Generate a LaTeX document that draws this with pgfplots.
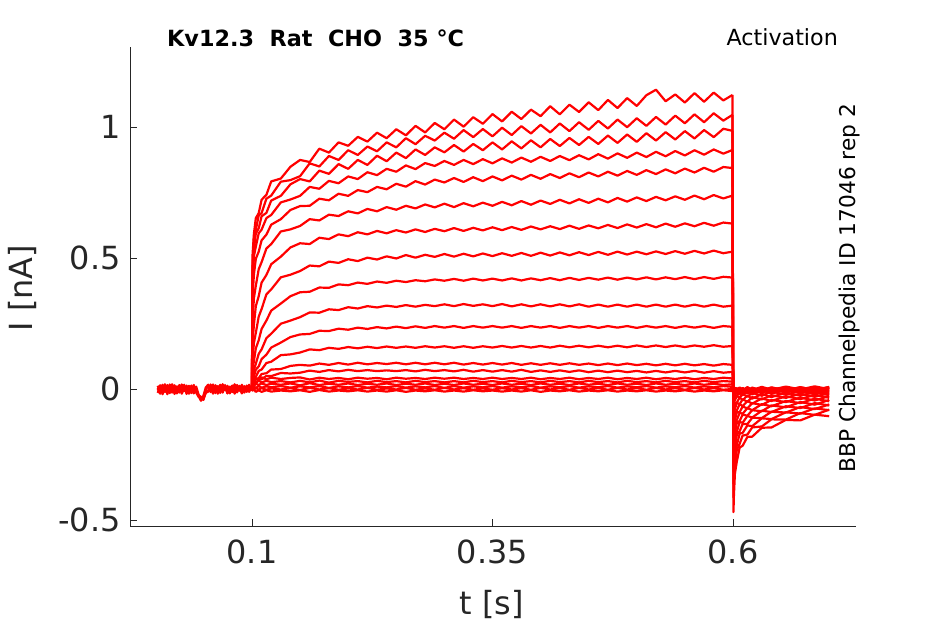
\documentclass[border=0pt]{standalone}
\usepackage{fontspec}
\setmainfont{DejaVu Sans}
\usepackage{pgfplots}
\pgfplotsset{compat=1.18}
\usepackage{pgfplotstable}
\definecolor{axgray}{RGB}{38,38,38}

\pgfplotstableread{
t b1 b2 b3 b4
0.0020 0.012 -0.015 0.004 -0.006
0.0045 -0.010 0.008 -0.018 0.014
0.0070 0.016 -0.004 0.010 -0.020
0.0095 -0.006 0.018 -0.012 0.006
0.0120 0.008 -0.020 0.015 -0.002
0.0145 -0.016 0.006 -0.004 0.017
0.0170 0.018 -0.010 0.012 -0.014
0.0195 -0.002 0.014 -0.019 0.004
0.0220 0.010 -0.017 0.006 -0.010
0.0245 -0.014 0.004 -0.008 0.015
0.0270 0.015 -0.012 0.017 -0.018
0.0295 -0.008 0.016 -0.006 0.002
0.0320 0.004 -0.019 0.013 -0.008
0.0345 -0.018 0.010 -0.015 0.012
0.0370 0.013 -0.006 0.008 -0.016
0.0395 -0.004 0.015 -0.017 0.006
0.0420 0.009 -0.014 0.002 -0.012
0.0445 -0.022 -0.030 -0.028 -0.024
0.0470 -0.040 -0.034 -0.045 -0.030
0.0495 -0.030 -0.042 -0.026 -0.038
0.0520 -0.004 -0.012 0.006 -0.015
0.0545 0.014 -0.006 0.016 -0.010
0.0570 -0.012 0.017 -0.009 0.005
0.0595 0.017 -0.010 0.011 -0.018
0.0620 -0.006 0.012 -0.016 0.014
0.0645 0.011 -0.018 0.007 -0.004
0.0670 -0.015 0.006 -0.011 0.016
0.0695 0.016 -0.014 0.018 -0.008
0.0720 -0.003 0.015 -0.005 0.010
0.0745 0.008 -0.016 0.012 -0.017
0.0770 -0.017 0.009 -0.014 0.006
0.0795 0.013 -0.005 0.004 -0.012
0.0820 -0.009 0.018 -0.018 0.015
0.0845 0.015 -0.013 0.010 -0.003
0.0870 -0.004 0.007 -0.007 0.012
0.0895 0.012 -0.017 0.016 -0.015
0.0920 -0.014 0.011 -0.010 0.007
0.0945 0.006 -0.008 0.013 -0.011
0.0970 -0.011 0.014 -0.003 0.016
0.0995 0.005 -0.005 0.008 -0.006
}\pretab

\pgfplotstableread{
t a1 a2 a3 a4 a5 a6 a7 a8 a9 a10 a11 a12 a13 a14 a15 a16 a17 a18 a19 a20
0.1 0.004 -0.003 0.006 0.000 -0.005 0.002 0.007 -0.004 0.003 -0.006 0.005 0.001 -0.002 0.004 -0.007 0.003 0.000 -0.004 0.006 -0.002
0.1005 0.506 0.462 0.447 0.395 0.344 0.246 0.174 0.106 0.073 0.037 0.033 0.017 0.018 0.008 0.019 0.008 0.010 0.001 0.003 -0.006
0.102 0.592 0.578 0.533 0.507 0.436 0.346 0.244 0.175 0.106 0.074 0.046 0.039 0.021 0.022 0.026 0.024 0.010 0.009 -0.004 -0.003
0.104 0.652 0.607 0.593 0.543 0.497 0.394 0.316 0.214 0.155 0.096 0.074 0.046 0.039 0.022 0.040 0.022 0.020 0.004 0.004 -0.011
0.107 0.671 0.662 0.613 0.594 0.524 0.457 0.354 0.276 0.186 0.134 0.086 0.069 0.041 0.038 0.036 0.032 0.015 0.011 -0.003 -0.005
0.11 0.722 0.671 0.659 0.608 0.567 0.484 0.406 0.305 0.229 0.151 0.114 0.074 0.057 0.037 0.044 0.025 0.021 0.005 0.003 -0.011
0.115 0.741 0.726 0.672 0.652 0.589 0.536 0.435 0.361 0.261 0.194 0.131 0.099 0.060 0.050 0.037 0.031 0.015 0.010 -0.003 -0.005
0.12 0.792 0.738 0.719 0.664 0.627 0.553 0.476 0.380 0.299 0.211 0.158 0.104 0.074 0.049 0.043 0.026 0.020 0.006 0.002 -0.010
0.13 0.803 0.791 0.737 0.712 0.648 0.601 0.505 0.426 0.326 0.249 0.177 0.129 0.076 0.061 0.038 0.030 0.016 0.011 -0.002 -0.006
0.14 0.848 0.797 0.781 0.723 0.683 0.609 0.540 0.436 0.354 0.261 0.198 0.132 0.088 0.059 0.042 0.025 0.021 0.005 0.003 -0.009
0.15 0.874 0.812 0.801 0.737 0.698 0.622 0.556 0.450 0.369 0.274 0.208 0.139 0.092 0.062 0.044 0.031 0.014 0.010 -0.004 -0.005
0.16 0.866 0.861 0.792 0.771 0.699 0.648 0.553 0.471 0.371 0.292 0.210 0.151 0.089 0.070 0.036 0.025 0.022 0.006 0.004 -0.011
0.17 0.917 0.849 0.833 0.764 0.726 0.643 0.577 0.468 0.387 0.291 0.222 0.148 0.097 0.065 0.043 0.032 0.015 0.011 -0.002 -0.004
0.18 0.902 0.889 0.821 0.794 0.720 0.665 0.572 0.486 0.386 0.304 0.221 0.157 0.092 0.072 0.038 0.024 0.020 0.004 0.003 -0.010
0.19 0.941 0.874 0.858 0.785 0.745 0.660 0.590 0.481 0.399 0.301 0.230 0.153 0.099 0.067 0.042 0.031 0.016 0.010 -0.003 -0.006
0.20 0.928 0.911 0.840 0.811 0.737 0.678 0.583 0.495 0.396 0.312 0.226 0.160 0.093 0.073 0.037 0.027 0.021 0.006 0.002 -0.009
0.21 0.962 0.893 0.874 0.801 0.759 0.670 0.598 0.488 0.406 0.307 0.234 0.155 0.100 0.068 0.043 0.030 0.015 0.011 -0.002 -0.005
0.22 0.944 0.925 0.855 0.827 0.751 0.687 0.590 0.501 0.401 0.316 0.229 0.161 0.094 0.072 0.039 0.025 0.020 0.005 0.004 -0.010
0.23 0.978 0.907 0.890 0.816 0.771 0.678 0.603 0.494 0.410 0.311 0.236 0.156 0.099 0.068 0.042 0.031 0.016 0.009 -0.003 -0.006
0.24 0.957 0.941 0.869 0.840 0.762 0.694 0.594 0.506 0.405 0.318 0.231 0.162 0.095 0.071 0.037 0.026 0.021 0.006 0.002 -0.010
0.25 0.991 0.922 0.902 0.829 0.783 0.684 0.606 0.498 0.413 0.313 0.238 0.157 0.100 0.068 0.043 0.030 0.015 0.011 -0.002 -0.005
0.26 0.968 0.957 0.881 0.853 0.772 0.699 0.597 0.511 0.408 0.320 0.232 0.162 0.094 0.072 0.039 0.025 0.020 0.005 0.004 -0.011
0.27 1.004 0.934 0.914 0.839 0.793 0.689 0.609 0.501 0.415 0.314 0.239 0.157 0.100 0.067 0.042 0.031 0.016 0.010 -0.003 -0.006
0.28 0.979 0.966 0.893 0.862 0.780 0.704 0.599 0.512 0.411 0.321 0.233 0.163 0.094 0.073 0.038 0.026 0.021 0.006 0.002 -0.009
0.29 1.015 0.948 0.922 0.851 0.799 0.693 0.611 0.504 0.418 0.316 0.240 0.158 0.100 0.068 0.043 0.030 0.015 0.011 -0.003 -0.005
0.30 0.991 0.978 0.903 0.870 0.788 0.707 0.602 0.515 0.413 0.323 0.234 0.163 0.094 0.072 0.039 0.025 0.020 0.004 0.004 -0.010
0.31 1.028 0.955 0.931 0.855 0.805 0.694 0.614 0.505 0.420 0.316 0.240 0.157 0.100 0.067 0.043 0.030 0.015 0.011 -0.002 -0.006
0.32 1.001 0.988 0.906 0.874 0.790 0.709 0.603 0.516 0.413 0.324 0.233 0.163 0.093 0.073 0.038 0.025 0.021 0.005 0.003 -0.010
0.33 1.037 0.961 0.935 0.858 0.808 0.697 0.615 0.506 0.421 0.317 0.240 0.157 0.099 0.066 0.042 0.031 0.016 0.010 -0.003 -0.005
0.34 1.012 0.992 0.911 0.877 0.793 0.711 0.605 0.517 0.414 0.323 0.234 0.163 0.093 0.072 0.038 0.026 0.020 0.006 0.002 -0.009
0.35 1.049 0.964 0.941 0.861 0.811 0.699 0.617 0.507 0.421 0.316 0.240 0.158 0.099 0.066 0.043 0.030 0.015 0.011 -0.003 -0.006
0.36 1.021 0.997 0.914 0.880 0.796 0.714 0.606 0.518 0.414 0.324 0.234 0.164 0.093 0.072 0.038 0.025 0.021 0.005 0.003 -0.010
0.37 1.058 0.969 0.945 0.864 0.814 0.701 0.618 0.508 0.422 0.315 0.240 0.158 0.099 0.066 0.042 0.031 0.016 0.010 -0.002 -0.006
0.38 1.030 1.003 0.918 0.883 0.799 0.717 0.607 0.519 0.414 0.323 0.233 0.164 0.092 0.073 0.038 0.026 0.020 0.006 0.003 -0.010
0.39 1.066 0.975 0.949 0.867 0.817 0.703 0.620 0.508 0.422 0.315 0.240 0.158 0.098 0.065 0.043 0.030 0.015 0.011 -0.003 -0.005
0.40 1.041 1.008 0.922 0.886 0.802 0.719 0.609 0.520 0.415 0.323 0.234 0.164 0.092 0.071 0.037 0.025 0.021 0.005 0.004 -0.011
0.41 1.079 0.979 0.954 0.870 0.820 0.706 0.621 0.509 0.423 0.315 0.240 0.158 0.098 0.065 0.042 0.031 0.016 0.010 -0.002 -0.006
0.42 1.048 1.013 0.927 0.889 0.805 0.722 0.610 0.521 0.415 0.323 0.233 0.165 0.092 0.071 0.038 0.026 0.020 0.006 0.003 -0.009
0.43 1.085 0.984 0.958 0.873 0.823 0.708 0.623 0.510 0.424 0.315 0.240 0.159 0.098 0.065 0.043 0.030 0.015 0.011 -0.003 -0.005
0.44 1.057 1.018 0.931 0.892 0.808 0.724 0.611 0.522 0.416 0.323 0.234 0.165 0.092 0.071 0.037 0.025 0.021 0.005 0.004 -0.010
0.45 1.094 0.989 0.962 0.876 0.826 0.710 0.624 0.511 0.424 0.314 0.240 0.159 0.097 0.064 0.042 0.031 0.016 0.010 -0.002 -0.006
0.46 1.064 1.023 0.935 0.896 0.811 0.726 0.613 0.523 0.417 0.322 0.233 0.165 0.091 0.070 0.038 0.026 0.020 0.006 0.003 -0.009
0.47 1.103 0.994 0.967 0.879 0.829 0.712 0.626 0.512 0.425 0.314 0.240 0.159 0.097 0.064 0.043 0.030 0.015 0.011 -0.003 -0.005
0.48 1.072 1.028 0.939 0.899 0.814 0.729 0.614 0.524 0.417 0.322 0.234 0.165 0.091 0.070 0.037 0.025 0.021 0.005 0.004 -0.010
0.49 1.110 0.999 0.971 0.882 0.832 0.715 0.628 0.513 0.425 0.314 0.240 0.159 0.097 0.064 0.042 0.031 0.016 0.010 -0.002 -0.006
0.50 1.080 1.033 0.943 0.902 0.817 0.731 0.616 0.524 0.418 0.322 0.233 0.166 0.091 0.069 0.038 0.026 0.020 0.006 0.003 -0.009
0.51 1.121 1.004 0.976 0.885 0.835 0.717 0.629 0.514 0.426 0.314 0.240 0.160 0.096 0.063 0.043 0.030 0.015 0.011 -0.003 -0.005
0.52 1.142 1.038 0.948 0.905 0.820 0.733 0.617 0.525 0.418 0.322 0.234 0.166 0.090 0.069 0.037 0.025 0.021 0.005 0.004 -0.010
0.53 1.098 1.009 0.980 0.888 0.838 0.720 0.631 0.515 0.426 0.314 0.240 0.160 0.096 0.063 0.042 0.031 0.016 0.010 -0.002 -0.006
0.54 1.124 1.043 0.952 0.908 0.823 0.735 0.619 0.526 0.419 0.322 0.233 0.166 0.090 0.069 0.038 0.026 0.020 0.006 0.003 -0.009
0.55 1.093 1.014 0.984 0.891 0.841 0.722 0.632 0.516 0.427 0.314 0.240 0.160 0.096 0.063 0.043 0.030 0.015 0.011 -0.003 -0.005
0.56 1.129 1.048 0.956 0.911 0.826 0.738 0.621 0.527 0.419 0.322 0.234 0.166 0.090 0.069 0.037 0.025 0.021 0.005 0.004 -0.010
0.57 1.096 1.018 0.988 0.894 0.844 0.724 0.634 0.517 0.427 0.314 0.240 0.161 0.095 0.062 0.042 0.031 0.016 0.010 -0.002 -0.006
0.58 1.131 1.052 0.961 0.914 0.829 0.740 0.623 0.528 0.420 0.322 0.233 0.167 0.089 0.068 0.038 0.026 0.020 0.006 0.003 -0.009
0.59 1.101 1.024 0.993 0.898 0.847 0.727 0.635 0.518 0.428 0.314 0.240 0.161 0.095 0.062 0.043 0.030 0.015 0.011 -0.003 -0.005
0.5995 1.122 1.046 0.985 0.912 0.843 0.738 0.631 0.524 0.425 0.318 0.237 0.164 0.092 0.065 0.040 0.028 0.018 0.008 0.000 -0.008
}\steptab

\pgfplotstableread{
t a1 a2 a3 a4 a5 a6 a7 a8 a9 a10 a11 a12 a13 a14 a15 a16 a17 a18 a19 a20
0.5995 1.122 1.046 0.985 0.912 0.843 0.738 0.631 0.524 0.425 0.318 0.237 0.164 0.092 0.065 0.040 0.028 0.018 0.008 0.000 -0.008
0.6005 -0.470 -0.414 -0.362 -0.315 -0.273 -0.235 -0.197 -0.165 -0.132 -0.103 -0.080 -0.056 -0.038 -0.028 -0.019 -0.014 -0.009 -0.005 0.002 -0.004
0.601 -0.405 -0.347 -0.312 -0.264 -0.236 -0.196 -0.172 -0.136 -0.115 -0.085 -0.071 -0.045 -0.035 -0.021 -0.019 -0.009 -0.011 -0.001 -0.003 0.001
0.602 -0.324 -0.296 -0.249 -0.226 -0.186 -0.170 -0.134 -0.120 -0.088 -0.077 -0.052 -0.044 -0.022 -0.024 -0.009 -0.014 -0.003 -0.008 0.004 -0.006
0.604 -0.277 -0.232 -0.214 -0.175 -0.163 -0.129 -0.119 -0.089 -0.082 -0.053 -0.052 -0.026 -0.028 -0.010 -0.017 -0.002 -0.011 0.003 -0.004 0.002
0.607 -0.223 -0.209 -0.170 -0.161 -0.126 -0.122 -0.090 -0.088 -0.057 -0.058 -0.032 -0.034 -0.011 -0.020 -0.002 -0.013 0.001 -0.009 0.006 -0.007
0.61 -0.217 -0.178 -0.168 -0.134 -0.129 -0.098 -0.095 -0.067 -0.066 -0.039 -0.043 -0.018 -0.024 -0.006 -0.015 0.000 -0.010 0.004 -0.005 0.003
0.615 -0.183 -0.174 -0.139 -0.134 -0.103 -0.102 -0.073 -0.074 -0.046 -0.049 -0.025 -0.030 -0.008 -0.017 0.000 -0.013 0.004 -0.008 0.007 -0.006
0.62 -0.182 -0.147 -0.142 -0.110 -0.109 -0.081 -0.081 -0.054 -0.056 -0.031 -0.037 -0.014 -0.021 -0.004 -0.014 0.002 -0.010 0.005 -0.004 0.004
0.63 -0.148 -0.143 -0.112 -0.111 -0.083 -0.085 -0.058 -0.061 -0.036 -0.040 -0.019 -0.026 -0.005 -0.016 0.001 -0.012 0.005 -0.007 0.008 -0.005
0.64 -0.147 -0.116 -0.115 -0.087 -0.088 -0.063 -0.066 -0.042 -0.046 -0.024 -0.031 -0.010 -0.018 0.000 -0.013 0.003 -0.009 0.006 -0.003 0.005
0.655 -0.118 -0.117 -0.089 -0.090 -0.066 -0.070 -0.046 -0.050 -0.028 -0.034 -0.014 -0.022 -0.002 -0.014 0.002 -0.011 0.006 -0.006 0.009 -0.004
0.67 -0.120 -0.092 -0.094 -0.069 -0.073 -0.050 -0.054 -0.033 -0.039 -0.018 -0.026 -0.007 -0.016 0.001 -0.012 0.004 -0.008 0.007 -0.002 0.006
0.685 -0.098 -0.099 -0.074 -0.077 -0.054 -0.060 -0.037 -0.044 -0.022 -0.030 -0.011 -0.020 -0.001 -0.013 0.003 -0.010 0.006 -0.005 0.010 -0.003
0.70 -0.104 -0.079 -0.081 -0.059 -0.063 -0.042 -0.047 -0.027 -0.034 -0.015 -0.024 -0.005 -0.015 0.002 -0.011 0.005 -0.007 0.008 -0.001 0.007
}\tailtab

\begin{document}
\begin{tikzpicture}
\useasboundingbox (-130bp,-98bp) rectangle (815bp,526bp);
\begin{axis}[
  at={(0,0)}, anchor=south west,
  scale only axis, width=726bp, height=479bp,
  xmin=-0.0268, xmax=0.7279, ymin=-0.523, ymax=1.305,
  axis lines*=left,
  xtick={0.1,0.35,0.6}, xticklabels={0.1,0.35,0.6},
  ytick={-0.5,0,0.5,1}, yticklabels={-0.5,0,0.5,1},
  tick align=inside, major tick length=7bp,
  tick style={axgray, line width=0.8bp},
  axis line style={axgray, line width=0.8bp},
  ticklabel style={font=\fontsize{32}{38}\selectfont, text=axgray},
  xticklabel style={yshift=-10bp},
  yticklabel style={xshift=-6bp},
]
\pgfplotsinvokeforeach{1,...,4}{\addplot[red, solid, no markers, line width=2.2bp, line join=round] table[x index=0, y index=#1]{\pretab};}
\pgfplotsinvokeforeach{1,...,20}{\addplot[red, solid, no markers, line width=2.2bp, line join=round] table[x index=0, y index=#1]{\steptab};}
\pgfplotsinvokeforeach{1,...,20}{\addplot[red, solid, no markers, line width=2.2bp, line join=round] table[x index=0, y index=#1]{\tailtab};}
\end{axis}
\node[anchor=center, text=axgray, font=\fontsize{32}{38}\selectfont] at (362bp,-78bp) {t [s]};
\node[anchor=center, rotate=90, text=axgray, font=\fontsize{32}{38}\selectfont] at (-108bp,238bp) {I [nA]};
\node[anchor=base west, inner sep=0pt, font=\bfseries\fontsize{22.4}{26}\selectfont] at (37bp,479bp) {Kv12.3\ \ Rat\ \ CHO\ \ 35 °C};
\node[anchor=base east, inner sep=0pt, font=\fontsize{22.3}{26}\selectfont] at (708bp,480bp) {Activation};
\node[anchor=center, rotate=90, inner sep=0pt, font=\fontsize{21.8}{26}\selectfont] at (719bp,238bp) {BBP Channelpedia ID 17046 rep 2};
\end{tikzpicture}
\end{document}
